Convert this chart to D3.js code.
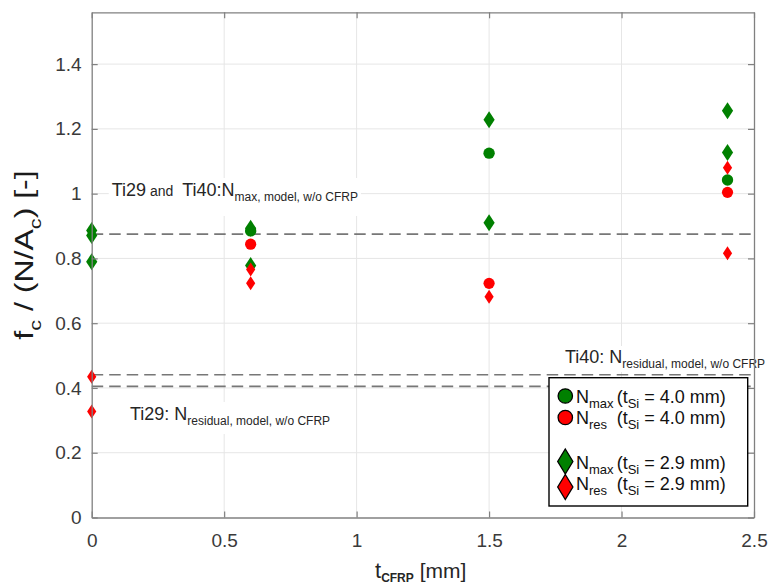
<!DOCTYPE html>
<html><head><meta charset="utf-8">
<script src="https://cdn.jsdelivr.net/npm/d3@7"></script>
<style>
body{margin:0;background:#fff;}
svg{display:block;font-family:Arial,"Liberation Sans",sans-serif;}
text{white-space:pre;}
</style>
</head><body>
<svg id="c" width="769" height="584"></svg>
<script>
// ---------- data ----------
const xTickValues = [0, 0.5, 1, 1.5, 2, 2.5];
const xTickLabels = ["0", "0.5", "1", "1.5", "2", "2.5"];
const yTickValues = [0, 0.2, 0.4, 0.6, 0.8, 1, 1.2, 1.4];
const yTickLabels = ["0", "0.2", "0.4", "0.6", "0.8", "1", "1.2", "1.4"];

// N_max (t_Si = 2.9 mm) - green diamonds
const nmax29X = [0, 0, 0, 0.6, 0.6, 1.5, 1.5, 2.4, 2.4];
const nmax29Y = [0.886, 0.871, 0.790, 0.893, 0.778, 1.228, 0.910, 1.256, 1.127];
// N_max (t_Si = 4.0 mm) - green circles
const nmax40X = [0.6, 1.5, 2.4];
const nmax40Y = [0.885, 1.125, 1.042];
// N_res (t_Si = 2.9 mm) - red diamonds
const nres29X = [0, 0, 0.6, 0.6, 1.5, 2.4, 2.4];
const nres29Y = [0.435, 0.327, 0.766, 0.723, 0.682, 1.080, 0.816];
// N_res (t_Si = 4.0 mm) - red circles
const nres40X = [0.6, 1.5, 2.4];
const nres40Y = [0.844, 0.723, 1.004];

// model reference lines (w/o CFRP)
const refNames = ["Ti29 and Ti40: Nmax", "Ti40: Nresidual", "Ti29: Nresidual"];
const refValues = [0.875, 0.441, 0.405];

const legendMain = ["N", "N", "N", "N"];
const legendSub = ["max", "res", "max", "res"];
const legendTsi = ["4.0", "4.0", "2.9", "2.9"];

// ---------- setup ----------
const GREEN = "#008000", RED = "#ff0000";
const L = 91.7, R = 754, T = 12.3, B = 517.5;
const x = d3.scaleLinear().domain([0, 2.5]).range([L, R]);
const y = d3.scaleLinear().domain([0, 1.56]).range([B, T]);
const svg = d3.select("#c");

function rich(parent, px, py, segs, color) {
  const t = parent.append("text").attr("x", px).attr("y", py).attr("fill", color || "#262626");
  let cur = 0;
  segs.forEach(s => {
    const d = s.d || 0;
    const ts = t.append("tspan").text(s.t).attr("font-size", s.s).attr("dy", d - cur);
    if (s.dx) ts.attr("dx", s.dx);
    if (s.b) ts.attr("font-weight", "bold");
    cur = d;
  });
  return t;
}
function diamond(w, h) { return `M0,${-h}L${w},0L0,${h}L${-w},0Z`; }

// ---------- grid ----------
const grid = svg.append("g").attr("stroke", "#e6e6e6").attr("stroke-width", 1);
grid.selectAll("line.gx").data(xTickValues.slice(1, -1)).join("line")
  .attr("x1", d => x(d)).attr("x2", d => x(d)).attr("y1", T).attr("y2", B);
grid.selectAll("line.gy").data(yTickValues.slice(1)).join("line")
  .attr("x1", L).attr("x2", R).attr("y1", d => y(d)).attr("y2", d => y(d));

// ---------- reference dashed lines ----------
svg.append("g").selectAll("line").data(refValues).join("line")
  .attr("x1", L).attr("x2", R).attr("y1", d => y(d)).attr("y2", d => y(d))
  .attr("stroke", "#777").attr("stroke-width", 1.6).attr("stroke-dasharray", "11.5,6");

// ---------- annotations (with white boxes) ----------
const ann = svg.append("g");
function boxed(px, py, segs, padT, padB) {
  const g = ann.append("g");
  const t = rich(g, px, py, segs);
  const bb = t.node().getBBox();
  g.insert("rect", "text").attr("x", bb.x - 3).attr("y", bb.y - padT)
    .attr("width", bb.width + 6).attr("height", bb.height + padT + padB).attr("fill", "#fff");
  return g;
}
boxed(111.7, 196, [
  {t: "Ti29", s: 18}, {t: " and ", s: 14}, {t: "Ti40:N", s: 18, dx: 5},
  {t: "max, model, w/o CFRP", s: 12, d: 5}], 2, 12);
boxed(130, 420, [
  {t: "Ti29: N", s: 18}, {t: "residual, model, w/o CFRP", s: 12, d: 5}], 2, 6);

// ---------- markers ----------
const mk = svg.append("g");
mk.selectAll("path.d29").data(nmax29X.map((v, i) => [v, nmax29Y[i]])).join("path")
  .attr("d", diamond(5.6, 8.5)).attr("transform", d => `translate(${x(d[0])},${y(d[1])})`).attr("fill", GREEN);
mk.selectAll("circle.c40").data(nmax40X.map((v, i) => [v, nmax40Y[i]])).join("circle")
  .attr("cx", d => x(d[0])).attr("cy", d => y(d[1])).attr("r", 5.7).attr("fill", GREEN);
mk.selectAll("path.r29").data(nres29X.map((v, i) => [v, nres29Y[i]])).join("path")
  .attr("d", diamond(4.6, 7)).attr("transform", d => `translate(${x(d[0])},${y(d[1])})`).attr("fill", RED);
mk.selectAll("circle.r40").data(nres40X.map((v, i) => [v, nres40Y[i]])).join("circle")
  .attr("cx", d => x(d[0])).attr("cy", d => y(d[1])).attr("r", 5.6).attr("fill", RED);

// ---------- axes ----------
const AX = "#808080";
function styleAxis(g) {
  g.select(".domain").attr("stroke", AX).attr("stroke-width", 1.3);
  g.selectAll(".tick line").attr("stroke", AX).attr("stroke-width", 1.2);
  g.selectAll(".tick text").attr("fill", "#3a3a3a");
  g.attr("font-family", null).attr("font-size", 19);
}
svg.append("g").attr("transform", `translate(0,${B})`)
  .call(d3.axisBottom(x).tickValues(xTickValues).tickFormat((d, i) => xTickLabels[i])
    .tickSizeInner(-6).tickSizeOuter(0).tickPadding(16)).call(styleAxis);
svg.append("g").attr("transform", `translate(0,${T})`)
  .call(d3.axisTop(x).tickValues(xTickValues).tickFormat("").tickSizeInner(-6).tickSizeOuter(0)).call(styleAxis);
svg.append("g").attr("transform", `translate(${L},0)`)
  .call(d3.axisLeft(y).tickValues(yTickValues).tickFormat((d, i) => yTickLabels[i])
    .tickSizeInner(-6).tickSizeOuter(0).tickPadding(10)).call(styleAxis);
svg.append("g").attr("transform", `translate(${R},0)`)
  .call(d3.axisRight(y).tickValues(yTickValues).tickFormat("").tickSizeInner(-6).tickSizeOuter(0)).call(styleAxis);

// Ti40 annotation (covers right axis)
boxed(565, 363, [
  {t: "Ti40: N", s: 18}, {t: "residual, model, w/o CFRP", s: 12, d: 5}], 1, 1);

// ---------- axis titles ----------
rich(svg, 375, 578, [{t: "t", s: 22}, {t: "CFRP", s: 12, d: 4, b: true}, {t: " [mm]", s: 21, d: 0}], "#262626");

const yl = svg.append("g").attr("transform", "translate(33,255) rotate(-90) scale(1.28,1)");
rich(yl, 0, 0, [{t: "f", s: 25}, {t: "c", s: 17, d: 8}, {t: " / (N/A", s: 25}, {t: "c", s: 17, d: 8}, {t: ") [-]", s: 25}], "#1a1a1a")
  .attr("text-anchor", "middle");

// ---------- legend ----------
const lg = svg.append("g");
lg.append("rect").attr("x", 549).attr("y", 377.7).attr("width", 198.7).attr("height", 128.3)
  .attr("fill", "#fff").attr("stroke", "#000").attr("stroke-width", 1.4);
const legY = [403, 424, 469, 490];
const legMarkY = [396, 417.5, 461.5, 487];
const legColor = [GREEN, RED, GREEN, RED];
legendMain.forEach((m, i) => {
  if (i < 2) {
    lg.append("circle").attr("cx", 565.3).attr("cy", legMarkY[i]).attr("r", 7.2)
      .attr("fill", legColor[i]).attr("stroke", "#000").attr("stroke-width", 1.3);
  } else {
    lg.append("path").attr("d", diamond(7.6, 12.5)).attr("transform", `translate(565.3,${legMarkY[i]})`)
      .attr("fill", legColor[i]).attr("stroke", "#000").attr("stroke-width", 1.3);
  }
  rich(lg, 576, legY[i], [{t: m, s: 18}, {t: legendSub[i], s: 13, d: 5}], "#111");
  rich(lg, 616.7, legY[i], [{t: "(t", s: 18}, {t: "Si", s: 13, d: 5}, {t: " = " + legendTsi[i] + " mm)", s: 18}], "#111");
});
</script>
</body></html>
